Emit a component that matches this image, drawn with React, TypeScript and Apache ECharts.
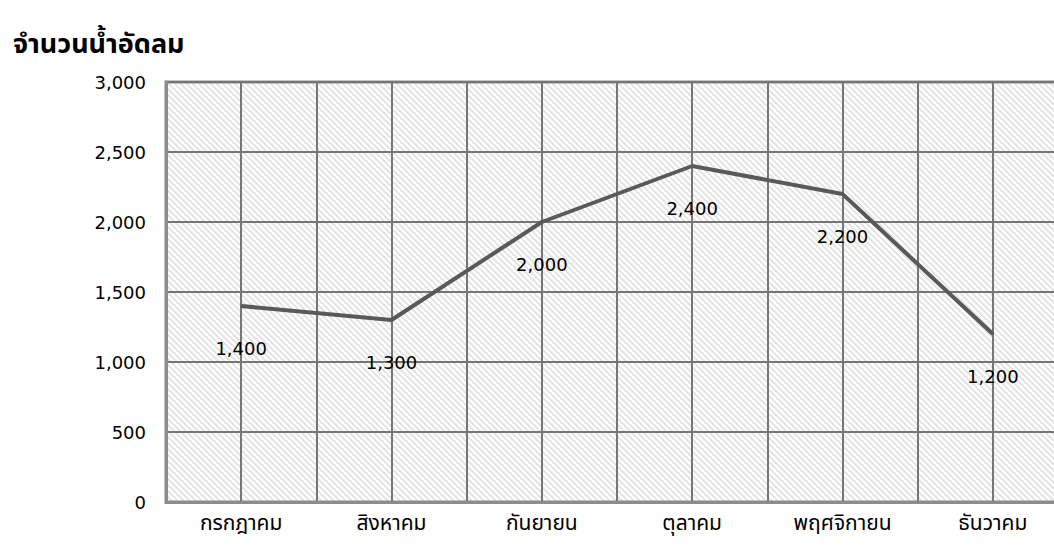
import React, { useEffect, useRef } from "react";
import * as echarts from "echarts";

const titleText = "จำนวนน้ำอัดลม";
const categories = ["กรกฎาคม", "สิงหาคม", "กันยายน", "ตุลาคม", "พฤศจิกายน", "ธันวาคม"];
const values = [1400, 1300, 2000, 2400, 2200, 1200];
const halfSlots = ["", "", "", "", "", "", "", "", "", "", "", ""];

const FONT = "'DejaVu Sans', Tahoma, 'Noto Sans Thai', 'Noto Sans', sans-serif";

function makeHatch(): string {
  const size = 6;
  const c = document.createElement("canvas");
  c.width = size;
  c.height = size;
  const ctx = c.getContext("2d")!;
  ctx.fillStyle = "#ffffff";
  ctx.fillRect(0, 0, size, size);
  ctx.fillStyle = "#e6e6e6";
  for (let y = 0; y < size; y++) {
    for (let x = 0; x < size; x++) {
      const d = (((x - y) % size) + size) % size;
      if (d < 3) ctx.fillRect(x, y, 1, 1);
    }
  }
  return c.toDataURL();
}

export default function App() {
  const ref = useRef<HTMLDivElement>(null);
  useEffect(() => {
    if (!ref.current) return;
    const chart = echarts.init(ref.current, null, { renderer: "svg" });
    const hatch = makeHatch();
    chart.setOption({
      animation: false,
      backgroundColor: "#ffffff",
      title: {
        text: titleText,
        left: 8,
        top: 25,
        textStyle: { fontFamily: FONT, fontSize: 27, fontWeight: "bold", color: "#000" },
      },
      grid: {
        left: 166,
        right: 0,
        top: 82,
        bottom: 50,
        show: true,
        backgroundColor: { image: hatch, repeat: "repeat" } as any,
        borderColor: "#8c8c8c",
        borderWidth: 3,
      },
      xAxis: [
        {
          type: "category",
          data: categories,
          boundaryGap: true,
          axisLine: { show: true, lineStyle: { color: "#8c8c8c", width: 3 } },
          axisTick: { show: false },
          axisLabel: { color: "#000", fontSize: 21, fontFamily: FONT, margin: 10, interval: 0 },
          splitLine: { show: false },
        },
        {
          type: "category",
          data: halfSlots,
          boundaryGap: true,
          position: "bottom",
          axisLine: { show: false },
          axisTick: { show: false },
          axisLabel: { show: false },
          splitLine: { show: true, interval: 0, lineStyle: { color: "#767676", width: 2 } },
        },
      ],
      yAxis: {
        type: "value",
        min: 0,
        max: 3000,
        interval: 500,
        axisLine: { show: true, lineStyle: { color: "#8c8c8c", width: 3 } },
        axisTick: { show: false },
        axisLabel: {
          color: "#000",
          fontSize: 18,
          fontFamily: FONT,
          margin: 20,
          formatter: (v: number) => v.toLocaleString("en-US"),
        },
        splitLine: { show: true, lineStyle: { color: "#767676", width: 2 } },
      },
      series: [
        {
          type: "line",
          data: values,
          xAxisIndex: 0,
          showSymbol: true,
          symbol: "circle",
          symbolSize: 2,
          itemStyle: { color: "#595959" },
          lineStyle: { color: "#595959", width: 4 },
          label: {
            show: true,
            position: "bottom",
            distance: 32,
            color: "#000",
            fontSize: 18,
            fontFamily: FONT,
            formatter: (p: any) => Number(p.value).toLocaleString("en-US"),
          },
          z: 5,
        },
      ],
    });
    return () => chart.dispose();
  }, []);
  return (
    <div
      style={{ position: "absolute", left: 0, top: 0, width: 1054, height: 552, overflow: "hidden" }}
    >
      <div ref={ref} style={{ width: 1068, height: 552 }} />
    </div>
  );
}
